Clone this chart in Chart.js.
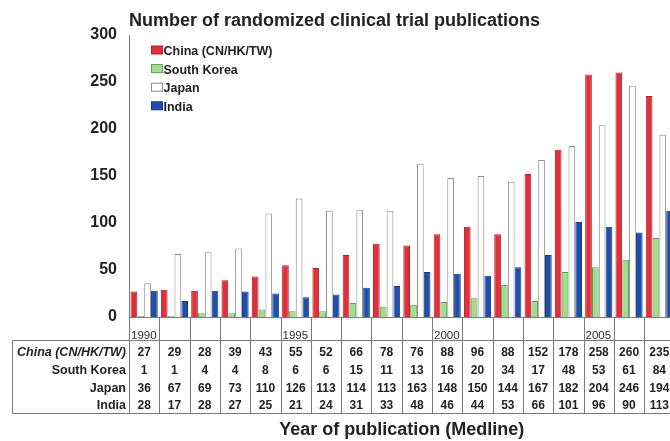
<!DOCTYPE html>
<html>
<head>
<meta charset="utf-8">
<script src="https://cdn.jsdelivr.net/npm/chart.js@4.4.0/dist/chart.umd.min.js"></script>
<style>
  body { margin: 0; background: #fff; }
  #wrap { width: 670px; height: 441px; overflow: hidden; }
</style>
</head>
<body>
<div id="wrap"><canvas id="c" width="680" height="441"></canvas></div>
<script>
// years 1990-2007, values
const years = ['1990', '1991', '1992', '1993', '1994', '1995', '1996', '1997', '1998',
  '1999', '2000', '2001', '2002', '2003', '2004', '2005', '2006', '2007'];
const china = [27, 29, 28, 39, 43, 55, 52, 66, 78, 76, 88, 96, 88, 152, 178, 258, 260, 235];
const korea = [1, 1, 4, 4, 8, 6, 6, 15, 11, 13, 16, 20, 34, 17, 48, 53, 61, 84];
const japan = [36, 67, 69, 73, 110, 126, 113, 114, 113, 163, 148, 150, 144, 167, 182, 204, 246, 194];
const india = [28, 17, 28, 27, 25, 21, 24, 31, 33, 48, 46, 44, 53, 66, 101, 96, 90, 113];
const seriesNames = ['China (CN/HK/TW)', 'South Korea', 'Japan', 'India'];
const yTicks = [0, 50, 100, 150, 200, 250, 300];

const FONT = '"Liberation Sans", Arial, Helvetica, sans-serif';
const INK = '#222';
const LINE = '#7a7a7a';

// legend drawn inside the plot, top-left
const legendPlugin = {
  id: 'insideLegend',
  afterDraw(chart) {
    const ctx = chart.ctx;
    ctx.save();
    ctx.font = 'bold 12.5px ' + FONT;
    ctx.textBaseline = 'middle';
    chart.data.datasets.forEach((ds, i) => {
      const y = 50.5 + i * 18.6;
      ctx.fillStyle = ds.backgroundColor;
      ctx.strokeStyle = ds.borderColor;
      ctx.lineWidth = 1;
      ctx.fillRect(151.5, y - 4.5, 11, 8);
      ctx.strokeRect(151.5, y - 4.5, 11, 8);
      ctx.fillStyle = INK;
      ctx.fillText(ds.label, 163.5, y + 1);
    });
    ctx.restore();
  }
};

// year row and data table under the x axis
const tablePlugin = {
  id: 'dataTable',
  afterDraw(chart) {
    const ctx = chart.ctx;
    const x = chart.scales.x;
    const step = x.getPixelForValue(1) - x.getPixelForValue(0);
    const top = chart.chartArea.bottom;
    const tTop = 340.5, rowH = 17.6, tBottom = 413.5;
    const rows = [china, korea, japan, india];
    ctx.save();
    ctx.strokeStyle = LINE;
    ctx.lineWidth = 1;
    ctx.beginPath();
    for (let i = 0; i <= years.length; i++) {
      const px = Math.round(x.getPixelForValue(i) - step / 2) + 0.5;
      ctx.moveTo(px, top);
      ctx.lineTo(px, tBottom);
    }
    ctx.moveTo(12.5, tTop); ctx.lineTo(chart.width, tTop);
    ctx.moveTo(12.5, tBottom); ctx.lineTo(chart.width, tBottom);
    ctx.moveTo(12.5, tTop); ctx.lineTo(12.5, tBottom);
    ctx.stroke();

    // year labels every 5 years
    ctx.fillStyle = '#2a2a2a';
    ctx.font = '11.5px ' + FONT;
    ctx.textAlign = 'left';
    ctx.textBaseline = 'alphabetic';
    years.forEach((yr, i) => {
      if (+yr % 5 === 0) ctx.fillText(yr, x.getPixelForValue(i) - step / 2 + 2, 339);
    });

    // row labels + numbers
    ctx.fillStyle = INK;
    ctx.textBaseline = 'middle';
    rows.forEach((vals, r) => {
      const cy = tTop + 12.5 + r * rowH;
      ctx.textAlign = 'right';
      ctx.font = (r === 0 ? 'italic ' : '') + 'bold 12.5px ' + FONT;
      ctx.fillText(seriesNames[r], 126, cy);
      ctx.font = 'bold 12px ' + FONT;
      ctx.textAlign = 'center';
      vals.forEach((v, i) => ctx.fillText(String(v), x.getPixelForValue(i), cy));
    });
    ctx.restore();
  }
};

const colors = [
  { bg: '#e0303c', bd: '#b01f2b' },
  { bg: '#a4dc8f', bd: '#5f9e55' },
  { bg: '#ffffff', bd: '#8a8a8a' },
  { bg: '#1f4fae', bd: '#15397c' }
];

const canvas = document.getElementById('c');
new Chart(canvas, {
  type: 'bar',
  data: {
    labels: years,
    datasets: [china, korea, japan, india].map((d, i) => ({
      label: seriesNames[i],
      data: d,
      backgroundColor: colors[i].bg,
      borderColor: colors[i].bd,
      borderWidth: 1,
      categoryPercentage: 0.9,
      barPercentage: 0.98
    }))
  },
  options: {
    responsive: false,
    animation: false,
    layout: { padding: { left: 0, right: 5.5, top: 0, bottom: 0 } },
    plugins: {
      legend: { display: false },
      tooltip: { enabled: false },
      title: {
        display: true,
        text: 'Number of randomized clinical trial publications',
        align: 'start',
        fullSize: false,
        color: INK,
        font: { family: FONT, size: 18, weight: 'bold' },
        padding: { top: 10, bottom: 3.4 }
      }
    },
    scales: {
      x: {
        ticks: { display: false },
        grid: { display: false, drawTicks: false },
        border: { color: LINE },
        title: {
          display: true,
          text: 'Year of publication (Medline)',
          color: INK,
          font: { family: FONT, size: 18, weight: 'bold' },
          padding: { top: -3, bottom: 0 }
        },
        afterFit(s) { s.height = 124; }
      },
      y: {
        min: yTicks[0],
        max: yTicks[yTicks.length - 1],
        afterBuildTicks(s) { s.ticks = yTicks.map(v => ({ value: v })); },
        ticks: {
          color: INK,
          padding: 12,
          font: { family: FONT, size: 16, weight: 'bold' }
        },
        grid: { display: false, drawTicks: false },
        border: { color: LINE },
        afterFit(s) { s.width = 129; }
      }
    }
  },
  plugins: [legendPlugin, tablePlugin]
});
</script>
</body>
</html>
